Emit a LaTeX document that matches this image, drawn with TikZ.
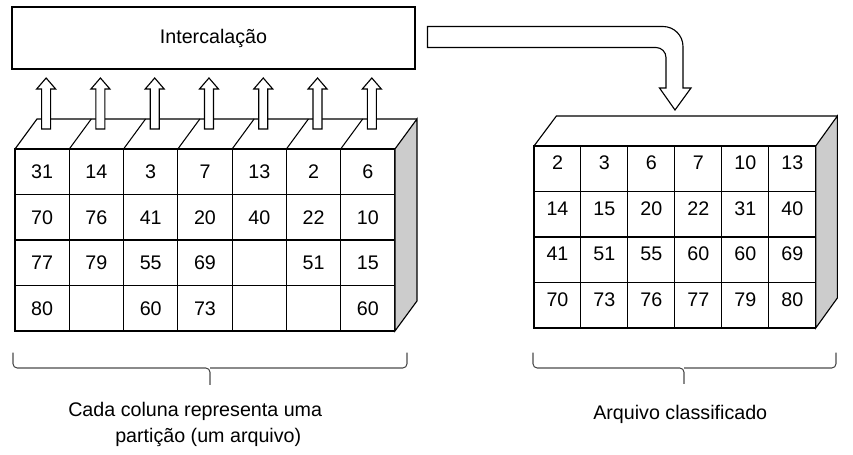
\documentclass[tikz,border=0pt]{standalone}
\usepackage{fontspec}
\setmainfont{Liberation Sans}
\usetikzlibrary{calc}

\tikzset{
    lcell/.style={draw, line width=0.75pt, minimum width=1.357cm, minimum height=1.1375cm, inner sep=0pt, outer sep=0pt},
    rcell/.style={draw, line width=0.75pt, minimum width=1.174cm, minimum height=1.1375cm, inner sep=0pt, outer sep=0pt, text depth=0.3cm},
    mergebox/.style={draw, line width=0.8pt, minimum width=10.075cm, minimum height=1.55cm, inner sep=0pt},
    blockarrow/.style={draw, line width=0.8pt, fill=white},
    curly/.style={draw=black!70, line width=0.75pt, rounded corners=3pt},
    caption/.style={inner sep=0pt}
}

\begin{document}
\begin{tikzpicture}[font=\fontsize{14}{18.5}\selectfont]
    \useasboundingbox (0,0) rectangle (21.325,11.375);

    % Merge box
    \node[mergebox] (merge) at (5.3375,10.425) {Intercalação};

    % Partitions (one column each)
    \foreach \vals [count=\r] in {{31,14,3,7,13,2,6},{70,76,41,20,40,22,10},{77,79,55,69,{},51,15},{80,{},60,73,{},{},60}}
    \foreach \v [count=\c] in \vals
    \node[lcell] (L-\r-\c) at ({0.375+1.357*(\c-0.5)},{7.65-1.1375*(\r-0.5)}) {\v};

    % Top and side of the partitions
    \filldraw[line width=0.8pt, fill=gray!40] (L-1-7.north east) -- ++(0.55,0.75) -- ($(L-4-7.south east)+(0.55,0.75)$) -- (L-4-7.south east) -- cycle;
    \draw[line width=0.8pt] (L-1-1.north west) -- ++(0.55,0.75) -- ($(L-1-7.north east)+(0.55,0.75)$);
    \foreach \c in {2,...,7}
    \draw[line width=0.75pt] (L-1-\c.north west) -- ++(0.55,0.75);

    % Reading arrows
    \foreach \c in {1,...,7}
    \draw[blockarrow] ($(L-1-\c.north)+(0.1,0.5)$) -- ++(-0.1125,0) -- ++(0,1) -- ++(-0.125,0)
        -- ++(0.2375,0.275) -- ++(0.2375,-0.275) -- ++(-0.125,0) -- ++(0,-1) -- cycle;

    % Output arrow
    \draw[blockarrow] (10.6875,10.7125) -- (16.575,10.7125) arc[start angle=90, end angle=0, radius=0.5]
        -- (17.075,9.175) -- (17.275,9.175) -- (16.875,8.625) -- (16.4875,9.175) -- (16.65,9.175)
        -- (16.65,9.9375) arc[start angle=0, end angle=90, radius=0.25] -- (10.6875,10.1875) -- cycle;

    % Sorted file
    \foreach \vals [count=\r] in {{2,3,6,7,10,13},{14,15,20,22,31,40},{41,51,55,60,60,69},{70,73,76,77,79,80}}
    \foreach \v [count=\c] in \vals
    \node[rcell] (R-\r-\c) at ({13.35+1.174*(\c-0.5)},{7.725-1.1375*(\r-0.5)}) {\v};

    \filldraw[line width=0.8pt, fill=gray!40] (R-1-6.north east) -- ++(0.54,0.75) -- ($(R-4-6.south east)+(0.54,0.75)$) -- (R-4-6.south east) -- cycle;
    \draw[line width=0.8pt] (R-1-1.north west) -- ++(0.56,0.75) -- ($(R-1-6.north east)+(0.54,0.75)$);

    % Braces
    \draw[curly] (0.325,2.5575) -- (0.325,2.175) -- (5.25,2.175) -- (5.25,1.75);
    \draw[curly] (10.175,2.5575) -- (10.175,2.175) -- (5.25,2.175);
    \draw[curly] (13.325,2.5575) -- (13.325,2.175) -- (17.1,2.175) -- (17.1,1.775);
    \draw[curly] (20.9,2.5575) -- (20.9,2.175) -- (17.1,2.175);

    % Captions
    \node[caption, anchor=north west, align=left] (leftcap) at (1.7,1.3325) {Cada coluna representa uma\\\hspace*{1.175cm}partição (um arquivo)};
    \node[caption, anchor=base west] (rightcap) at (14.825,0.875) {Arquivo classificado};
\end{tikzpicture}
\end{document}
